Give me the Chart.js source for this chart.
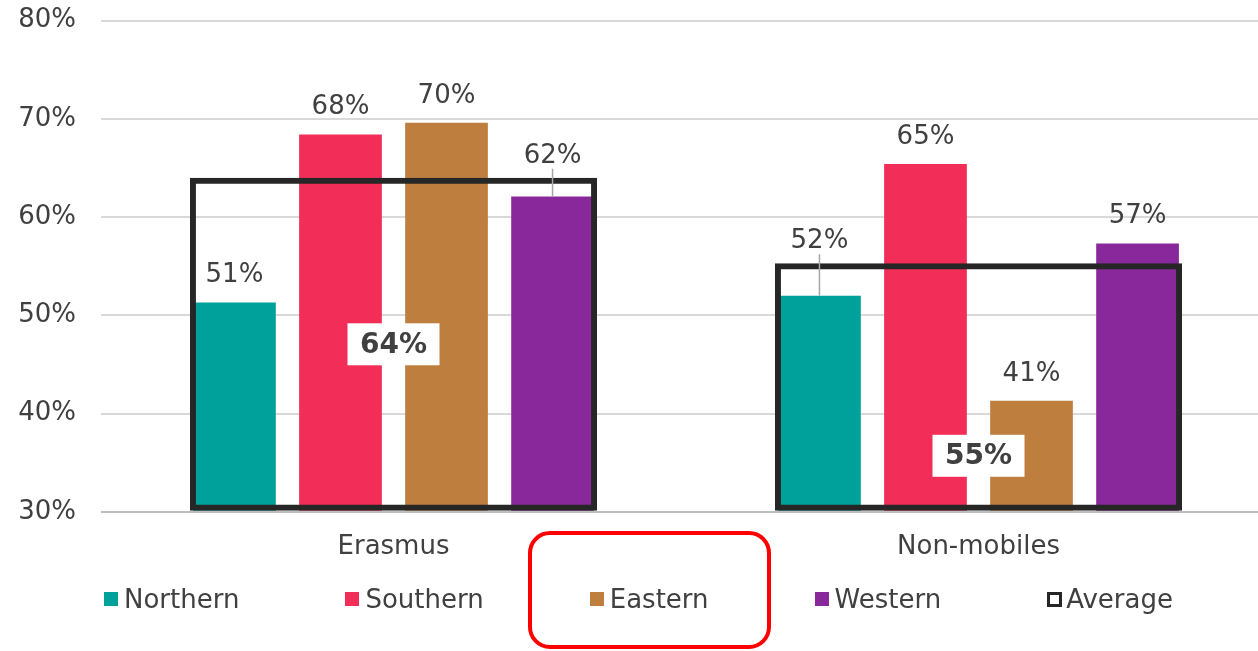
<!DOCTYPE html>
<html>
<head>
<meta charset="utf-8">
<script src="https://cdn.jsdelivr.net/npm/chart.js@4.4.0/dist/chart.umd.min.js"></script>
<style>
  html, body { margin: 0; padding: 0; background: #fff; overflow: hidden; }
  #wrap { position: absolute; left: 0; top: -20px; width: 1271px; height: 671px; }
  #legend {
    position: absolute; left: 104px; top: 584px; height: 30px;
    display: flex; align-items: center; gap: 106px;
    font: 26px "DejaVu Sans", Verdana, sans-serif; color: #404040;
  }
  #legend .item { display: flex; align-items: center; white-space: nowrap; line-height: 30px; }
  #legend .box { width: 14px; height: 14px; margin-right: 6px; box-sizing: border-box; }
  #mark {
    position: absolute; left: 528px; top: 531px; width: 243px; height: 118px;
    border: 4px solid #ff0000; border-radius: 22px; box-sizing: border-box;
  }
</style>
</head>
<body>
<div id="wrap"><canvas id="regionChart"></canvas></div>
<div id="legend"></div>
<div id="mark"></div>
<script>
const categories = ['Erasmus', 'Non-mobiles'];
const northern = [51.3, 52.0];
const southern = [68.4, 65.4];
const eastern = [69.6, 41.3];
const western = [62.1, 57.3];
const average = [64.0, 55.3];
const yTicks = [30, 40, 50, 60, 70, 80];

const FONT = '"DejaVu Sans", Verdana, sans-serif';
const TEXT = '#404040';

Chart.defaults.font.family = FONT;
Chart.defaults.font.size = 26;
Chart.defaults.color = TEXT;

function regionSet(label, data, color) {
    return {
        label: label,
        data: data,
        base: yTicks[0],
        backgroundColor: color,
        borderWidth: 0,
        categoryPercentage: 0.725,
        barPercentage: 0.78
    };
}

// etiquetas dos valores + caixa da media
const labelPlugin = {
    id: 'valueLabels',
    afterDatasetsDraw(chart) {
        const ctx = chart.ctx;
        const avgMeta = chart.getDatasetMeta(4);
        const boxes = categories.map(() => []);

        ctx.save();
        ctx.textAlign = 'center';
        ctx.textBaseline = 'middle';
        ctx.font = '26px ' + FONT;

        for (let d = 0; d < 4; d++) {
            const meta = chart.getDatasetMeta(d);
            meta.data.forEach((bar, i) => {
                const avgY = avgMeta.data[i].y;
                let y = bar.y - 27;
                let leader = false;
                // empurra a etiqueta para cima se bater na linha da media
                if (y + 12 > avgY - 2 && y - 12 < avgY + 8) {
                    y = avgY - 22;
                    leader = true;
                }
                if (leader) {
                    ctx.strokeStyle = '#a6a6a6';
                    ctx.lineWidth = 1.5;
                    ctx.beginPath();
                    ctx.moveTo(bar.x, y + 13);
                    ctx.lineTo(bar.x, bar.y);
                    ctx.stroke();
                }
                const txt = Math.round(chart.data.datasets[d].data[i]) + '%';
                ctx.fillStyle = TEXT;
                ctx.fillText(txt, bar.x, y);
                const w = ctx.measureText(txt).width;
                boxes[i].push({ l: bar.x - w / 2, r: bar.x + w / 2, t: y - 13, b: y + 13, bar: bar });
            });
        }

        ctx.font = 'bold 28px ' + FONT;
        avgMeta.data.forEach((el, i) => {
            const bw = 92, bh = 42;
            let y = (el.y + el.base) / 2;
            boxes[i].forEach(b => {
                const hit = el.x + bw / 2 > b.l && el.x - bw / 2 < b.r &&
                            y + bh / 2 > b.t && y - bh / 2 < b.b;
                if (hit) y = (b.bar.y + b.bar.base) / 2;
            });
            ctx.fillStyle = '#fff';
            ctx.fillRect(el.x - bw / 2, y - bh / 2, bw, bh);
            ctx.fillStyle = TEXT;
            ctx.fillText(Math.round(average[i]) + '%', el.x, y + 1);
        });
        ctx.restore();
    }
};

const ctx = document.getElementById('regionChart').getContext('2d');
const regionChart = new Chart(ctx, {
    type: 'bar',
    data: {
        labels: categories,
        datasets: [
            regionSet('Northern', northern, '#00a19b'),
            regionSet('Southern', southern, '#f22d58'),
            regionSet('Eastern', eastern, '#bd7e3e'),
            regionSet('Western', western, '#89289b'),
            {
                label: 'Average',
                data: average,
                base: yTicks[0],
                backgroundColor: 'rgba(0,0,0,0)',
                borderColor: '#262626',
                borderWidth: 6,
                borderSkipped: false,
                grouped: false,
                order: -1,
                categoryPercentage: 0.725,
                barPercentage: 0.96
            }
        ]
    },
    options: {
        responsive: true,
        maintainAspectRatio: false,
        animation: false,
        layout: { padding: { left: 18, top: 0, right: 0, bottom: 76 } },
        scales: {
            x: {
                grid: { display: false },
                border: { display: false },
                ticks: { padding: 12, color: TEXT }
            },
            y: {
                min: 30,
                max: 80,
                afterBuildTicks: axis => { axis.ticks = yTicks.map(v => ({ value: v })); },
                afterFit: axis => { axis.width = 83; },
                border: { display: false },
                grid: {
                    drawTicks: false,
                    lineWidth: 2,
                    color: c => (c.tick && c.tick.value === 30 ? '#bfbfbf' : '#d9d9d9')
                },
                ticks: { padding: 25, color: TEXT, callback: v => v + '%' }
            }
        },
        plugins: {
            legend: { display: false },
            tooltip: { enabled: false }
        }
    },
    plugins: [labelPlugin]
});

// legenda em HTML (espaçamento como no original)
const legendEl = document.getElementById('legend');
regionChart.data.datasets.forEach((ds, i) => {
    const item = document.createElement('div');
    item.className = 'item';
    const box = document.createElement('span');
    box.className = 'box';
    if (i === 4) {
        box.style.border = '3px solid ' + ds.borderColor;
        box.style.background = '#fff';
        box.style.marginRight = '4px';
        box.style.width = '15px';
        box.style.height = '15px';
    } else {
        box.style.background = ds.backgroundColor;
    }
    item.appendChild(box);
    item.appendChild(document.createTextNode(ds.label));
    legendEl.appendChild(item);
});
</script>
</body>
</html>
